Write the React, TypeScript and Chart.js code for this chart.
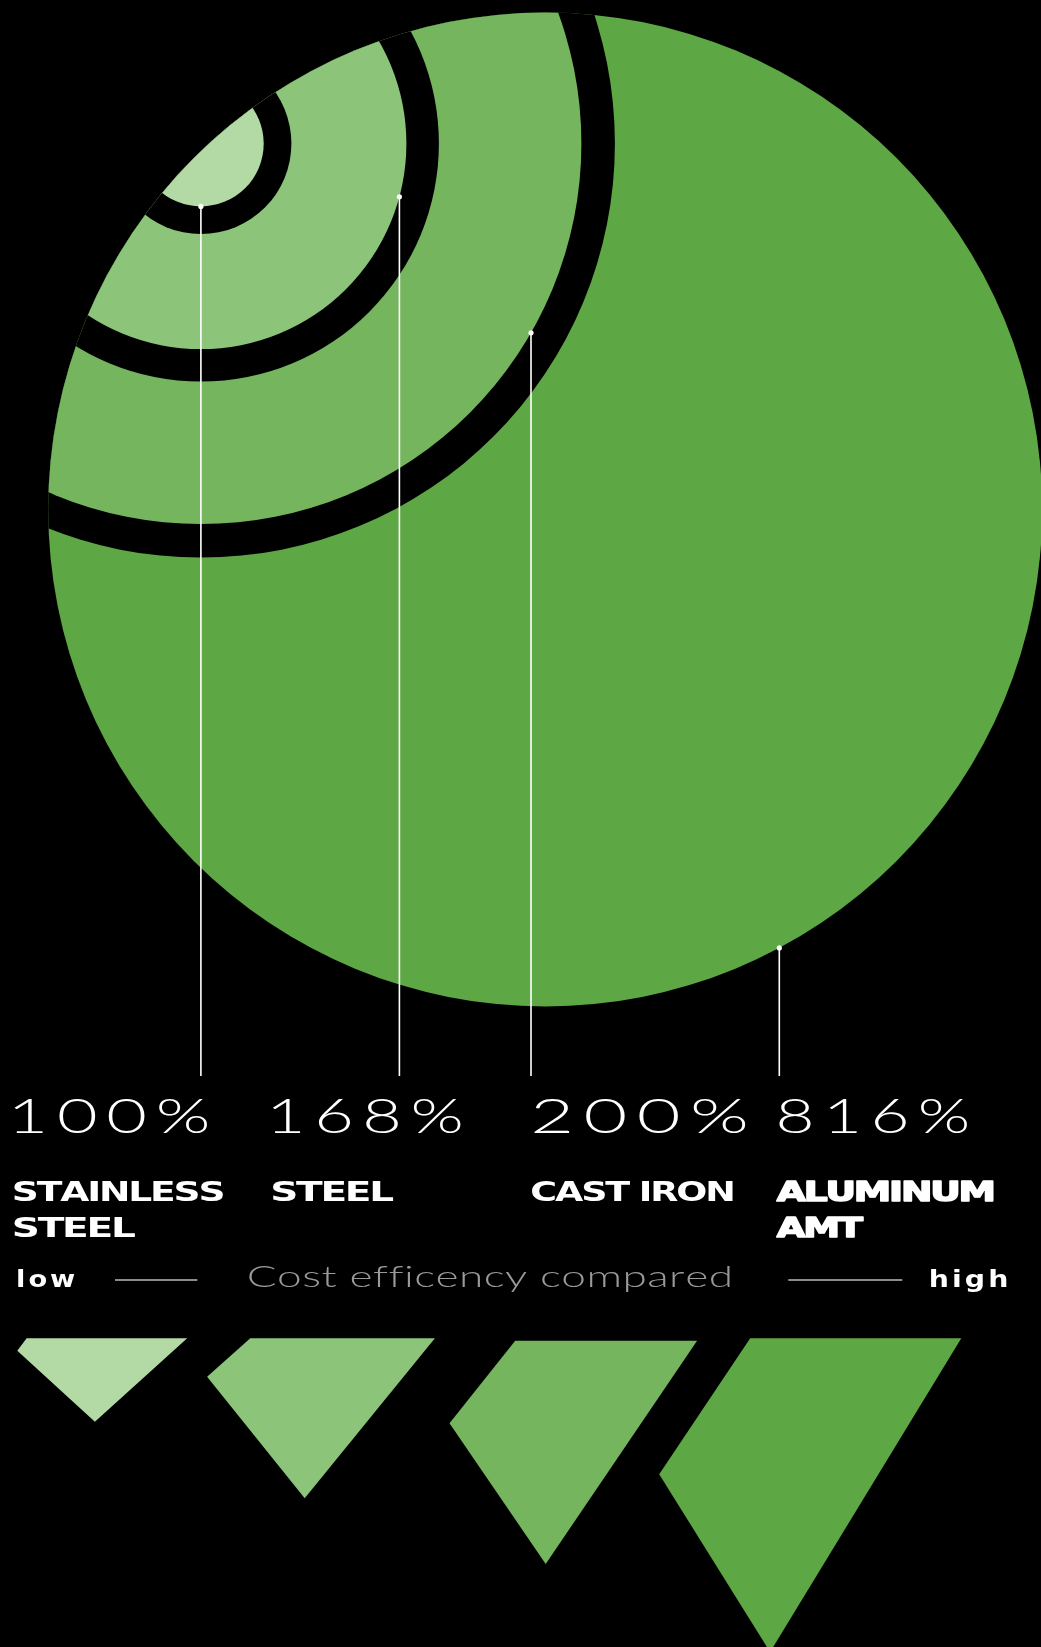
import React, { useEffect, useRef } from 'react';
import { Chart, registerables } from 'chart.js';

Chart.register(...registerables);

const W = 1041;
const H = 1647;

// ---- data ----
const materials = ['STAINLESS STEEL', 'STEEL', 'CAST IRON', 'ALUMINUM AMT'];
const labelLines = [['STAINLESS', 'STEEL'], ['STEEL'], ['CAST IRON'], ['ALUMINUM', 'AMT']];
const efficiency = [100, 168, 200, 816];
const regionColors = ['#b3daa4', '#8cc47a', '#74b55e', '#5ea745'];

// circle geometry (chart units)
const ringCenter = [200.9, 143.6];
const ringOuterRadii = [62.8, 205.5, 380.5]; // stainless, steel, cast iron
const ringGapRadii = [90.5, 238, 414]; // black separators around them
const bigCircle = [545.2, 509.5, 497]; // aluminum AMT

// leader lines
const leaderX = [200.9, 399.4, 531, 779.3];
const leaderBottom = 1076;

// lower shapes (vertices in chart units)
const shapeVerts = [
  [[26.6, 1338.3], [187.2, 1338.3], [94.9, 1421.7], [17.3, 1350.7]],
  [[250.3, 1338.3], [434.9, 1338.3], [304.7, 1498.3], [207.1, 1376.7]],
  [[515.2, 1340.7], [697.1, 1340.7], [545.7, 1564], [449.5, 1423.3]],
  [[750.2, 1338.3], [961.3, 1338.3], [770.1, 1652], [659.2, 1474.3]],
];

// scale legend
const legendLow = 'low';
const legendHigh = 'high';
const legendTitle = 'Cost efficency compared';
const legendLeftLine = [115, 197.3];
const legendRightLine = [788.3, 902.3];
const legendY = 1280;

// text layout
const pctX = [13.3, 271.7, 533.3, 778.3];
const pctW = [195, 190, 213.4, 190];
const pctBaseline = 1133.3;
const labelX = [13.3, 271.7, 531.7, 776.7];
const labelW = [[209.7, 121.7], [121.6], [201.6], [216.6, 86.7]];
const labelBaselines = [1200.7, 1236.7];

type TextItem = {
  text: string; x: number; y: number; w: number; font: string; color: string; ls: number; stroke?: number;
};

function drawSpaced(ctx: CanvasRenderingContext2D, t: TextItem) {
  ctx.save();
  ctx.font = t.font;
  ctx.fillStyle = t.color;
  ctx.textBaseline = 'alphabetic';
  ctx.textAlign = 'left';
  const chars = Array.from(t.text);
  const adv = chars.map((c) => ctx.measureText(c).width);
  const first = ctx.measureText(chars[0]);
  const last = ctx.measureText(chars[chars.length - 1]);
  const lsb = -first.actualBoundingBoxLeft;
  const rsb = last.width - last.actualBoundingBoxRight;
  const total = adv.reduce((a, b) => a + b, 0) + t.ls * (chars.length - 1);
  const ink = total - lsb - rsb;
  const s = t.w / ink;
  ctx.translate(t.x, t.y);
  ctx.scale(s, 1);
  let cx = -lsb;
  chars.forEach((c, i) => {
    ctx.fillText(c, cx, 0);
    if (t.stroke) {
      ctx.lineWidth = t.stroke;
      ctx.strokeStyle = t.color;
      ctx.lineJoin = 'round';
      ctx.strokeText(c, cx, 0);
    }
    cx += adv[i] + t.ls;
  });
  ctx.restore();
}

function buildTexts(): TextItem[] {
  const items: TextItem[] = [];
  efficiency.forEach((v, i) => {
    items.push({ text: `${v}%`, x: pctX[i], y: pctBaseline, w: pctW[i], font: '300 48px Lato', color: '#ffffff', ls: 6 });
  });
  labelLines.forEach((lines, i) => {
    lines.forEach((line, j) => {
      items.push({
        text: line, x: labelX[i], y: labelBaselines[j], w: labelW[i][j],
        font: 'bold 26px "DejaVu Sans"', color: '#ffffff', ls: -1.5, stroke: i === 3 ? 1.4 : 0,
      });
    });
  });
  items.push({ text: legendLow, x: 17.3, y: 1286.7, w: 57.7, font: 'bold 23px "DejaVu Sans"', color: '#ffffff', ls: 2.5 });
  items.push({ text: legendHigh, x: 930, y: 1286.7, w: 76.7, font: 'bold 23px "DejaVu Sans"', color: '#ffffff', ls: 2.5 });
  items.push({ text: legendTitle, x: 248.3, y: 1287.3, w: 481.7, font: '300 29px Lato', color: '#9a9a9a', ls: 0.3 });
  return items;
}

const leaderTop = leaderX.map((x, i) =>
  i < 3
    ? ringCenter[1] + Math.sqrt(ringOuterRadii[i] ** 2 - (x - ringCenter[0]) ** 2)
    : bigCircle[1] + Math.sqrt(bigCircle[2] ** 2 - (x - bigCircle[0]) ** 2)
);

export default function App() {
  const ref = useRef<HTMLCanvasElement | null>(null);

  useEffect(() => {
    document.body.style.background = '#000';
    const canvas = ref.current;
    if (!canvas) return;
    const pxPerUnit = W / (W - 0); // x scale 0..W spans full canvas width

    const ringData: any[] = [];
    const ringColors: string[] = [];
    for (let i = 2; i >= 0; i--) {
      ringData.push({ x: ringCenter[0], y: ringCenter[1], r: ringGapRadii[i] * pxPerUnit });
      ringColors.push('#000000');
      ringData.push({ x: ringCenter[0], y: ringCenter[1], r: ringOuterRadii[i] * pxPerUnit });
      ringColors.push(regionColors[i]);
    }

    const clipPlugin = {
      id: 'clipToBigCircle',
      beforeDatasetDraw(chart: any, args: any) {
        const ds = chart.data.datasets[args.index];
        if (!ds.clipToBig) return;
        const { ctx, scales } = chart;
        const cx = scales.x.getPixelForValue(bigCircle[0]);
        const cy = scales.y.getPixelForValue(bigCircle[1]);
        const r = Math.abs(scales.x.getPixelForValue(bigCircle[0] + bigCircle[2]) - cx);
        ctx.save();
        ctx.beginPath();
        ctx.arc(cx, cy, r, 0, Math.PI * 2);
        ctx.clip();
      },
      afterDatasetDraw(chart: any, args: any) {
        const ds = chart.data.datasets[args.index];
        if (!ds.clipToBig) return;
        chart.ctx.restore();
      },
    };

    const textPlugin = {
      id: 'infoTexts',
      afterDatasetsDraw(chart: any) {
        const { ctx, scales } = chart;
        buildTexts().forEach((t) => {
          drawSpaced(ctx, {
            ...t,
            x: scales.x.getPixelForValue(t.x),
            y: scales.y.getPixelForValue(t.y),
          });
        });
      },
    };

    const datasets: any[] = [
      {
        type: 'bubble',
        label: materials[3],
        data: [{ x: bigCircle[0], y: bigCircle[1], r: bigCircle[2] * pxPerUnit }],
        backgroundColor: regionColors[3],
        borderWidth: 0,
        order: 20,
      },
      {
        type: 'bubble',
        label: 'rings',
        data: ringData,
        backgroundColor: ringColors,
        borderWidth: 0,
        clipToBig: true,
        order: 19,
      },
      ...shapeVerts.map((v, i) => ({
        type: 'line',
        label: materials[i] + ' shape',
        data: [...v, v[0]].map(([x, y]) => ({ x, y })),
        fill: 'shape',
        backgroundColor: regionColors[i],
        borderColor: 'rgba(0,0,0,0)',
        borderWidth: 0,
        pointRadius: 0,
        tension: 0,
        order: 10,
      })),
      ...leaderX.map((x, i) => ({
        type: 'line',
        label: materials[i] + ' leader',
        data: [{ x, y: leaderTop[i] }, { x, y: leaderBottom }],
        borderColor: '#ffffff',
        borderWidth: 1.6,
        pointRadius: (c: any) => (c.dataIndex === 0 ? 2.6 : 0),
        pointBackgroundColor: '#ffffff',
        pointBorderWidth: 0,
        fill: false,
        order: 2,
      })),
      ...[legendLeftLine, legendRightLine].map((l, i) => ({
        type: 'line',
        label: i === 0 ? 'low line' : 'high line',
        data: [{ x: l[0], y: legendY }, { x: l[1], y: legendY }],
        borderColor: '#8c8c8c',
        borderWidth: 2,
        pointRadius: 0,
        fill: false,
        order: 2,
      })),
    ];

    const chart = new Chart(canvas, {
      type: 'bubble',
      data: { datasets },
      options: {
        responsive: false,
        maintainAspectRatio: false,
        devicePixelRatio: 1,
        animation: false,
        events: [],
        layout: { padding: 0, autoPadding: false },
        scales: {
          x: { type: 'linear', min: 0, max: W, display: false },
          y: { type: 'linear', min: 0, max: H, reverse: true, display: false },
        },
        plugins: {
          legend: { display: false },
          tooltip: { enabled: false },
        },
      },
      plugins: [clipPlugin, textPlugin],
    } as any);

    return () => chart.destroy();
  }, []);

  return (
    <div style={{ position: 'absolute', left: 0, top: 0, width: W, height: H, background: '#000', overflow: 'hidden' }}>
      <canvas ref={ref} width={W} height={H} style={{ display: 'block', width: W, height: H }} />
    </div>
  );
}
